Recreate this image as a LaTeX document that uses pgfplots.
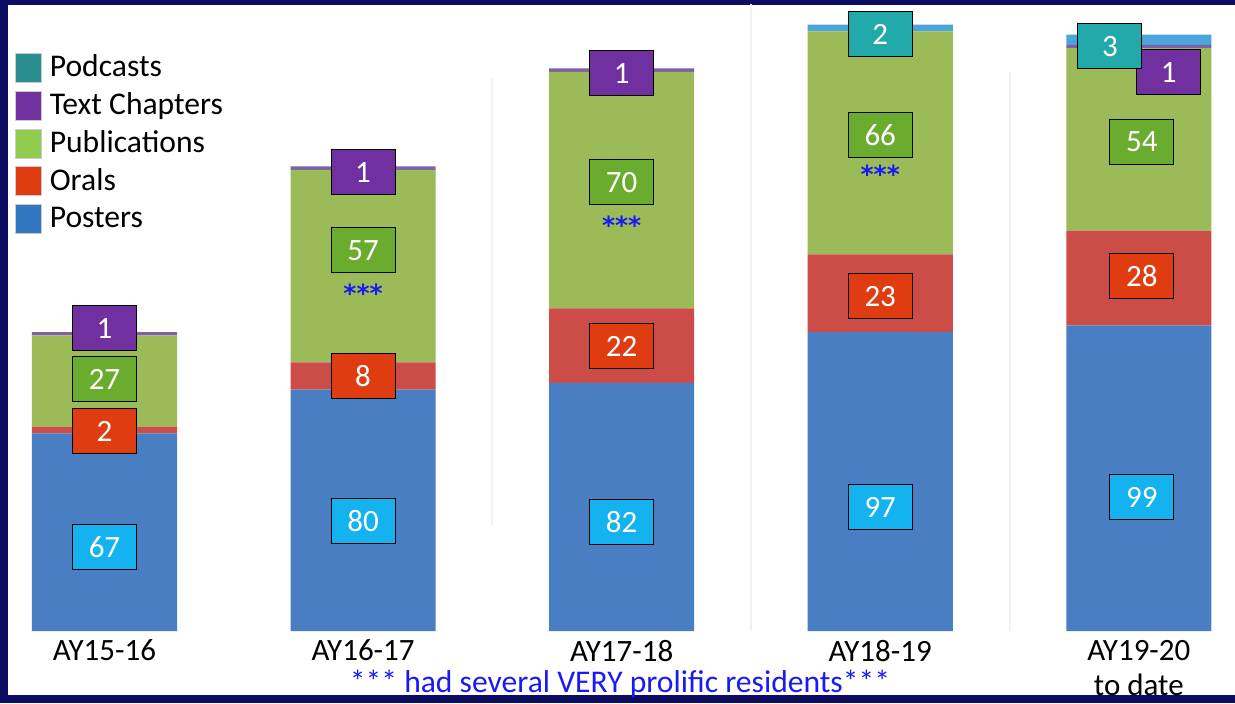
\documentclass[border=0pt]{standalone}
\usepackage{fontspec}
\setmainfont{Carlito}
\newfontfamily\starfont{DejaVu Sans}
\usepackage{pgfplots}
\pgfplotsset{compat=1.18}

% bar colours
\definecolor{cPost}{HTML}{4A7EC2}
\definecolor{cOral}{HTML}{CC4C47}
\definecolor{cPubl}{HTML}{9BBB59}
\definecolor{cText}{HTML}{7F5FA8}
\definecolor{cPod}{HTML}{4BA5D8}
% legend / label box colours
\definecolor{lPod}{HTML}{2A8E8E}
\definecolor{lText}{HTML}{7030A0}
\definecolor{lPubl}{HTML}{92CC4E}
\definecolor{lOral}{HTML}{E03C12}
\definecolor{lPost}{HTML}{2F78C0}
\definecolor{bGreen}{HTML}{6AAD2E}
\definecolor{bCyan}{HTML}{14B2EE}
\definecolor{bTeal}{HTML}{22A9A9}
\definecolor{navy}{HTML}{0C0C62}
\definecolor{starblue}{HTML}{1A1AF5}

\begin{document}
\begin{tikzpicture}[
  lbl/.style={draw=black, line width=0.5pt, text=white, minimum width=32pt,
              minimum height=22.5pt, inner sep=0pt, font=\fontsize{15.5}{17}\selectfont},
  stars/.style={text=starblue, inner sep=0pt, font=\starfont\bfseries\fontsize{12.5}{14}\selectfont}]

\fill[navy] (0pt,0pt) rectangle (617.5pt,351.5pt);
\fill[white] (4pt,4pt) rectangle (617.5pt,349pt);

\begin{axis}[
    at={(0pt,36pt)}, anchor=south west,
    width=617.5pt, height=315.5pt, scale only axis,
    xmin=-0.404, xmax=4.372, ymin=8.5, ymax=195.2,
    ybar stacked, bar width=0.561,
    axis line style={draw=none}, major tick length=0pt,
    ytick=\empty,
    xtick={0,1,2,3,4},
    xticklabels={AY15-16,AY16-17,AY17-18,AY18-19,{AY19-20\\to date}},
    xticklabel style={font=\fontsize{15.5}{17.5}\selectfont, align=center,
                      anchor=north, inner sep=0pt, yshift=-4.2pt},
    legend style={at={(axis description cs:0.012,0.917)}, anchor=north west,
                  draw=none, fill=none, inner sep=0pt, row sep=4pt, column sep=4pt,
                  font=\fontsize{15.8}{17}\selectfont,
                  nodes={inner sep=0pt, text height=10.5pt, text depth=3pt}},
    legend cell align=left,
    legend image code/.code={\path[#1, draw=gray!40, line width=0.3pt] (0pt,-6.5pt) rectangle (13pt,8pt);},
  ]
  \draw[gray!10, line width=1pt] (axis cs:1.5,40) -- (axis cs:1.5,172);
  \draw[gray!10, line width=1pt] (axis cs:2.5,8.5) -- (axis cs:2.5,194);
  \draw[gray!10, line width=1pt] (axis cs:3.5,8.5) -- (axis cs:3.5,174);

  \addlegendimage{fill=lPod}\addlegendentry{Podcasts}
  \addlegendimage{fill=lText}\addlegendentry{Text Chapters}
  \addlegendimage{fill=lPubl}\addlegendentry{Publications}
  \addlegendimage{fill=lOral}\addlegendentry{Orals}
  \addlegendimage{fill=lPost}\addlegendentry{Posters}

  % Posters
  \addplot[fill=cPost, draw=none, forget plot] coordinates {(0,67) (1,80) (2,82) (3,97) (4,99)};
  % Orals
  \addplot[fill=cOral, draw=none, forget plot] coordinates {(0,2) (1,8) (2,22) (3,23) (4,28)};
  % Publications
  \addplot[fill=cPubl, draw=none, forget plot] coordinates {(0,27) (1,57) (2,70) (3,66) (4,54)};
  % Text Chapters
  \addplot[fill=cText, draw=none, forget plot] coordinates {(0,1) (1,1) (2,1) (3,0) (4,1)};
  % Podcasts
  \addplot[fill=cPod, draw=none, forget plot] coordinates {(0,0) (1,0) (2,0) (3,2) (4,3)};

  % anchor points for the value boxes
  \coordinate (t0) at (axis cs:0,98.1);   \coordinate (u0) at (axis cs:0,83.1);
  \coordinate (o0) at (axis cs:0,67.7);   \coordinate (p0) at (axis cs:0,33.4);
  \coordinate (t1) at (axis cs:1,144.3);  \coordinate (u1) at (axis cs:1,121.2);
  \coordinate (s1) at (axis cs:1,108.6);
  \coordinate (o1) at (axis cs:1,83.9);   \coordinate (p1) at (axis cs:1,41.0);
  \coordinate (t2) at (axis cs:2,173.6);  \coordinate (u2) at (axis cs:2,141.3);
  \coordinate (s2) at (axis cs:2,128.7);
  \coordinate (o2) at (axis cs:2,92.8);   \coordinate (p2) at (axis cs:2,40.7);
  \coordinate (c3) at (axis cs:3,185.2);  \coordinate (u3) at (axis cs:3,155.2);
  \coordinate (s3) at (axis cs:3,143.6);
  \coordinate (o3) at (axis cs:3,107.6);  \coordinate (p3) at (axis cs:3,45.2);
  \coordinate (t4) at (axis cs:4.116,173.9); \coordinate (c4) at (axis cs:3.888,181.6);
  \coordinate (u4) at (axis cs:4.012,153.2); \coordinate (o4) at (axis cs:4.012,113.5);
  \coordinate (p4) at (axis cs:4.012,48.1);
\end{axis}

\node[lbl, fill=lText] at (t0) {1};
\node[lbl, fill=bGreen] at (u0) {27};
\node[lbl, fill=lOral] at (o0) {2};
\node[lbl, fill=bCyan] at (p0) {67};

\node[lbl, fill=lText] at (t1) {1};
\node[lbl, fill=bGreen] at (u1) {57};
\node[stars] at (s1) {***};
\node[lbl, fill=lOral] at (o1) {8};
\node[lbl, fill=bCyan] at (p1) {80};

\node[lbl, fill=lText] at (t2) {1};
\node[lbl, fill=bGreen] at (u2) {70};
\node[stars] at (s2) {***};
\node[lbl, fill=lOral] at (o2) {22};
\node[lbl, fill=bCyan] at (p2) {82};

\node[lbl, fill=bTeal] at (c3) {2};
\node[lbl, fill=bGreen] at (u3) {66};
\node[stars] at (s3) {***};
\node[lbl, fill=lOral] at (o3) {23};
\node[lbl, fill=bCyan] at (p3) {97};

\node[lbl, fill=lText] at (t4) {1};
\node[lbl, fill=bTeal] at (c4) {3};
\node[lbl, fill=bGreen] at (u4) {54};
\node[lbl, fill=lOral] at (o4) {28};
\node[lbl, fill=bCyan] at (p4) {99};

\node[text=starblue, inner sep=0pt, font=\fontsize{15.8}{16}\selectfont]
  at (310pt,9.8pt) {*** had several VERY prolific residents***};
\end{tikzpicture}
\end{document}
